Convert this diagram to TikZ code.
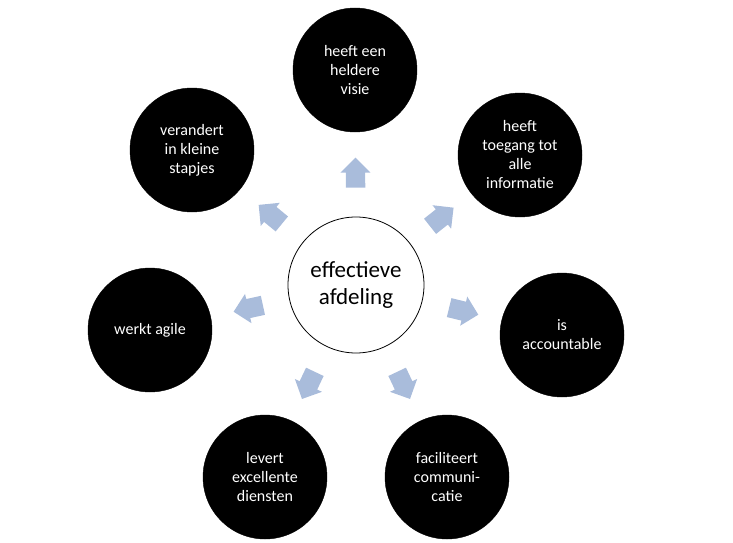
\documentclass[tikz,border=0pt]{standalone}
\usepackage{fontspec}
\setmainfont{Carlito}
\usetikzlibrary{shapes.arrows,calc}
\definecolor{arrblue}{HTML}{A9BCDB}
\begin{document}
\begin{tikzpicture}[x=1pt,y=-1pt,
  outer/.style={circle,fill=black,draw=black,text=white,minimum size=124pt,align=center,font=\fontsize{16}{19}\selectfont,inner sep=0pt},
  arr/.style={single arrow,fill=arrblue,draw=none,minimum height=30pt,minimum width=30pt,single arrow head extend=5pt,inner sep=9pt}]
\useasboundingbox (0,0) rectangle (733,543);
\node[circle,draw=black,line width=0.8pt,minimum size=136pt,align=center,font=\fontsize{23}{27}\selectfont] (c) at (356,285) {effectieve\\afdeling};
\node[outer] (o1) at (355,70) {heeft een\\heldere\\visie};
\node[outer] (o2) at (520,155) {heeft\\toegang tot\\alle\\informatie};
\node[outer] (o3) at (562,335) {is\\accountable};
\node[outer] (o4) at (447,477) {faciliteert\\communi-\\catie};
\node[outer] (o5) at (265,477) {levert\\excellente\\diensten};
\node[outer] (o6) at (150,330) {werkt agile};
\node[outer] (o7) at (192,150) {verandert\\in kleine\\stapjes};
\foreach \o in {o1,o2,o3,o4,o5,o6,o7}{
  \path let \p1=($(\o)-(c)$), \n1={atan2(\y1,\x1)} in
    node[arr,rotate=\n1] at ($(c)!0.5!(\o)$) {};
}
\end{tikzpicture}
\end{document}
